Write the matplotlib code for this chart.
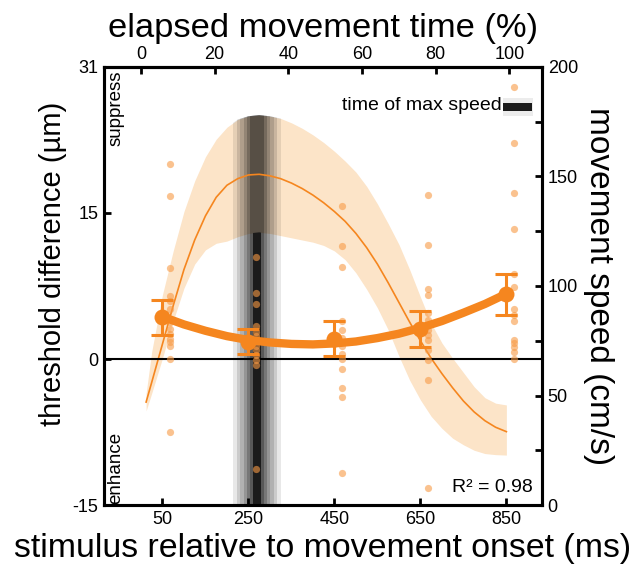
import numpy as np
import matplotlib
matplotlib.use("Agg")
import matplotlib.pyplot as plt
from matplotlib.patches import Rectangle, PathPatch
from matplotlib.path import Path

plt.rcParams['font.family'] = ['Liberation Sans', 'DejaVu Sans']

# ---------------- data ----------------
# speed profile (right axis, cm/s) vs time (ms)
speed_t = [12, 25, 50, 75, 100, 125, 150, 175, 200, 225, 250, 275, 300, 325, 350, 375,
           400, 425, 450, 475, 500, 525, 550, 575, 600, 625, 650, 675, 700, 725,
           750, 775, 800, 825, 850]
speed_mean = [47, 56, 73.5, 91, 107.5, 121, 132, 140.5, 146, 149, 150.7, 151, 150.3,
              149, 147, 144.5, 141.5, 138, 134, 129.5, 124, 117.5, 110, 101.5, 92.5,
              83.5, 75, 67, 60, 53.5, 47.5, 42.5, 38.5, 35.5, 33.5]
speed_upper = [51, 70, 96, 116, 134, 148, 159, 167, 172.5, 176, 177.5, 178, 177.5,
               176.5, 174.5, 172, 169, 165.5, 161.5, 157, 152, 145.5, 137.5, 128.5, 119,
               107.5, 95, 83, 74, 67, 60.5, 54, 49, 46.5, 45.7]
speed_lower = [43, 51, 67, 84, 99, 110, 116.5, 119.5, 120.5, 122.5, 124, 124.5, 124,
               123, 122, 121, 120, 118.5, 116, 112, 106, 98.5, 90, 80, 68,
               57, 48, 40.5, 35, 30.5, 27.5, 25, 23.5, 23, 22.8]

# time of max speed distribution (ms)
max_speed_center = 270
max_speed_halfwidths = [56, 46.5, 38.8, 31, 23.3, 15.5]
max_speed_alphas = [0.09, 0.12, 0.125, 0.157, 0.2, 0.255]
max_speed_core = 8.9

# threshold difference (left axis, um)
stim_times = [50, 250, 450, 650, 850]
thr_means = [4.36, 1.78, 2.03, 3.09, 6.69]
thr_err_hi = [6.08, 3.06, 3.91, 4.94, 8.75]
thr_err_lo = [2.47, 0.48, 0.31, 1.27, 4.53]

fit_t = [50, 100, 150, 200, 250, 300, 350, 400, 450, 500, 550, 600, 650, 700, 750, 800, 850]
fit_v = [4.35, 3.55, 2.9, 2.35, 1.95, 1.7, 1.55, 1.5, 1.6, 1.8, 2.15, 2.6, 3.2,
         3.9, 4.75, 5.65, 6.7]

dot_x = [68, 268, 468, 668, 868]
dots_50 = [20.0, 16.7, 9.3, 6.5, 6.0, 5.1, 3.8, 3.1, 2.6, 2.1, 1.7, 1.3, 0.0, -7.5]
dots_250 = [10.5, 6.8, 5.7, 3.4, 2.8, 2.4, 1.8, 1.3, 0.9, 0.4, -0.1, -0.6, -11.3]
dots_450 = [15.7, 11.6, 9.5, 3.9, 3.0, 2.2, 1.3, 0.5, 0.0, -1.0, -3.0, -3.9, -11.7]
dots_650 = [16.8, 11.7, 7.2, 6.6, 4.7, 4.0, 3.0, 2.5, 2.0, 0.9, -0.1, -2.2, -13.3]
dots_850 = [27.9, 22.2, 17.1, 13.4, 8.7, 7.4, 5.1, 4.5, 3.9, 2.0, 1.6, 1.2, 0.7, 0.0]
dot_groups = [dots_50, dots_250, dots_450, dots_650, dots_850]

bottom_ticks = [50, 250, 450, 650, 850]
top_ticks = [0, 20, 40, 60, 80, 100]
left_ticks = [-15, 0, 15, 30]
left_ticklabels = ['-15', '0', '15', '31']
right_ticks = [0, 50, 100, 150, 200]
right_minor = [25, 75, 125, 175]
movement_duration = 857.0

ORANGE = '#F5861F'
DOT = '#F89A45'
BAND = '#FCE4C8'

# ---------------- figure ----------------
fig = plt.figure(figsize=(6.34, 5.7), dpi=100)
ax = fig.add_axes([0.164, 0.114, 0.691, 0.7685])   # speed axis (right)
axt = ax.twinx()                                   # threshold axis (left)
ax.yaxis.tick_right()
ax.yaxis.set_label_position('right')
axt.yaxis.tick_left()
axt.yaxis.set_label_position('left')

ax.set_xlim(-86, 933)
ax.set_ylim(0, 200)
axt.set_ylim(-15, 30)

# band
ax.fill_between(speed_t, speed_lower, speed_upper, color=BAND, lw=0, zorder=1)

# clip polygons
up_verts = list(zip(speed_t, speed_upper)) + [(speed_t[-1], 0), (speed_t[0], 0), (speed_t[0], speed_upper[0])]
lo_verts = list(zip(speed_t, speed_lower)) + [(speed_t[-1], 0), (speed_t[0], 0), (speed_t[0], speed_lower[0])]
up_patch = PathPatch(Path(up_verts), transform=ax.transData, fc='none', ec='none')
lo_patch = PathPatch(Path(lo_verts), transform=ax.transData, fc='none', ec='none')

for hw, a in zip(max_speed_halfwidths, max_speed_alphas):
    r = Rectangle((max_speed_center - hw, 0), 2 * hw, 200, facecolor='k', alpha=a,
                  lw=0, zorder=2)
    ax.add_patch(r)
    r.set_clip_path(up_patch)
core = Rectangle((max_speed_center - max_speed_core, 0), 2 * max_speed_core, 200,
                 facecolor='#1b1b1b', lw=0, zorder=3)
ax.add_patch(core)
core.set_clip_path(lo_patch)

ax.plot(speed_t, speed_mean, color=ORANGE, lw=1.2, zorder=4)

# threshold stuff
axt.axhline(0, color='k', lw=1.5, zorder=1)
for x, vals in zip(dot_x, dot_groups):
    axt.plot([x] * len(vals), vals, 'o', ms=5.2, color=DOT, alpha=0.6, mec='none', zorder=2)
axt.plot(fit_t, fit_v, color=ORANGE, lw=6, solid_capstyle='round', zorder=3)
yerr = [np.array(thr_means) - np.array(thr_err_lo), np.array(thr_err_hi) - np.array(thr_means)]
axt.errorbar(stim_times, thr_means, yerr=yerr, fmt='none', ecolor=ORANGE, elinewidth=2.2,
             capsize=8, capthick=2.2, zorder=4)
axt.plot(stim_times, thr_means, 'o', ms=11.5, color=ORANGE, mec='none', zorder=5)

# ticks
ax.set_xticks(bottom_ticks)
ax.set_yticks(right_ticks)
ax.set_yticks(right_minor, minor=True)
axt.set_yticks(left_ticks)
axt.set_yticklabels(left_ticklabels)
for a in (ax, axt):
    a.tick_params(which='both', direction='in', length=5, width=2, labelsize=13, pad=4)
    for s in a.spines.values():
        s.set_linewidth(2.2)

secax = ax.secondary_xaxis('top', functions=(lambda x: x / movement_duration * 100,
                                             lambda p: p * movement_duration / 100))
secax.set_xticks(top_ticks)
secax.tick_params(direction='in', length=5, width=2, labelsize=13, pad=3)
secax.spines['top'].set_linewidth(2.2)

ax.set_xlabel('stimulus relative to movement onset (ms)', fontsize=24.4, labelpad=4)
secax.set_xlabel('elapsed movement time (%)', fontsize=24.8, labelpad=6)
axt.set_ylabel('threshold difference (µm)', fontsize=21)
axt.yaxis.set_label_coords(-0.085, 0.551)
ax.set_ylabel('movement speed (cm/s)', fontsize=24, rotation=270, labelpad=26)

# annotations
axt.text(0.007, 0.991, 'suppress', rotation=90, ha='left', va='top', fontsize=13.5,
         transform=axt.transAxes)
axt.text(0.007, 0.003, 'enhance', rotation=90, ha='left', va='bottom', fontsize=13.5,
         transform=axt.transAxes)
axt.text(0.979, 0.030, 'R² = 0.98', ha='right', va='baseline', fontsize=14,
         transform=axt.transAxes)
axt.text(0.9087, 0.911, 'time of max speed', ha='right', va='center', fontsize=14,
         transform=axt.transAxes)
axt.add_patch(Rectangle((0.911, 0.888), 0.068, 0.0405, transform=axt.transAxes,
                        facecolor='#ececec', lw=0, zorder=6))
axt.add_patch(Rectangle((0.9116, 0.900), 0.065, 0.017, transform=axt.transAxes,
                        facecolor='#1b1b1b', lw=0, zorder=7))

fig.savefig('out.png', dpi=100)
